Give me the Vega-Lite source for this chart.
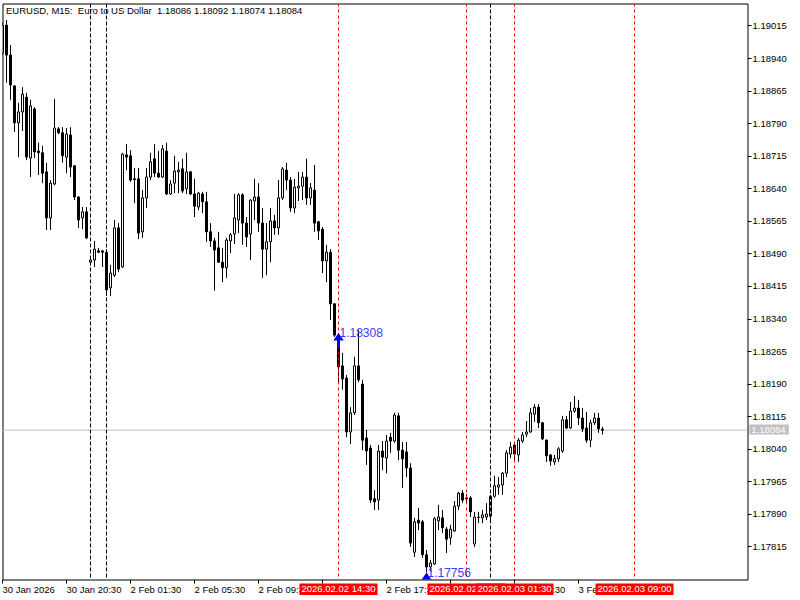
{
"$schema": "https://vega.github.io/schema/vega-lite/v6.json",
"autosize": "none",
"width": 745,
"height": 576,
"padding": {"left": 2.5, "top": 3.5, "right": 52.5, "bottom": 20.5},
"background": "white",
"title": {"text": "EURUSD, M15:\u00a0 Euro to US Dollar\u00a0 1.18086 1.18092 1.18074 1.18084", "anchor": "start", "frame": "group", "offset": -10, "dx": 3.5, "dy": 10.5, "baseline": "alphabetic", "font": "Liberation Sans", "fontSize": 9.5, "fontWeight": "normal", "color": "black"},
"datasets": {
"candles": [
{"t":0,"o":1.18953,"h":1.19024,"l":1.18948,"c":1.19017},
{"t":1,"o":1.19017,"h":1.19029,"l":1.18884,"c":1.18948},
{"t":2,"o":1.18948,"h":1.18971,"l":1.18845,"c":1.18879},
{"t":3,"o":1.18877,"h":1.18879,"l":1.18771,"c":1.18792},
{"t":4,"o":1.18792,"h":1.18838,"l":1.18713,"c":1.18817},
{"t":5,"o":1.18817,"h":1.18874,"l":1.18773,"c":1.18858},
{"t":6,"o":1.18851,"h":1.18861,"l":1.18706,"c":1.18713},
{"t":7,"o":1.18711,"h":1.18845,"l":1.18667,"c":1.18831},
{"t":8,"o":1.18824,"h":1.18828,"l":1.18711,"c":1.18725},
{"t":9,"o":1.18727,"h":1.18746,"l":1.18672,"c":1.18723},
{"t":10,"o":1.18723,"h":1.18739,"l":1.18653,"c":1.18676},
{"t":11,"o":1.18679,"h":1.18700,"l":1.18545,"c":1.18573},
{"t":12,"o":1.18573,"h":1.18660,"l":1.18545,"c":1.18653},
{"t":13,"o":1.18651,"h":1.18847,"l":1.18648,"c":1.18780},
{"t":14,"o":1.18778,"h":1.18782,"l":1.18766,"c":1.18769},
{"t":15,"o":1.18769,"h":1.18782,"l":1.18700,"c":1.18716},
{"t":16,"o":1.18713,"h":1.18780,"l":1.18676,"c":1.18766},
{"t":17,"o":1.18764,"h":1.18782,"l":1.18667,"c":1.18690},
{"t":18,"o":1.18693,"h":1.18695,"l":1.18614,"c":1.18621},
{"t":19,"o":1.18621,"h":1.18623,"l":1.18550,"c":1.18568},
{"t":20,"o":1.18573,"h":1.18598,"l":1.18547,"c":1.18587},
{"t":21,"o":1.18587,"h":1.18598,"l":1.18524,"c":1.18527},
{"t":22,"o":1.18471,"h":1.18481,"l":1.18465,"c":1.18476},
{"t":23,"o":1.18476,"h":1.18520,"l":1.18460,"c":1.18501},
{"t":24,"o":1.18497,"h":1.18504,"l":1.18492,"c":1.18494},
{"t":25,"o":1.18497,"h":1.18499,"l":1.18460,"c":1.18494},
{"t":26,"o":1.18494,"h":1.18501,"l":1.18393,"c":1.18407},
{"t":27,"o":1.18412,"h":1.18465,"l":1.18393,"c":1.18446},
{"t":28,"o":1.18441,"h":1.18568,"l":1.18437,"c":1.18550},
{"t":29,"o":1.18550,"h":1.18561,"l":1.18448,"c":1.18455},
{"t":30,"o":1.18460,"h":1.18723,"l":1.18458,"c":1.18720},
{"t":31,"o":1.18718,"h":1.18743,"l":1.18683,"c":1.18713},
{"t":32,"o":1.18716,"h":1.18729,"l":1.18656,"c":1.18660},
{"t":33,"o":1.18663,"h":1.18688,"l":1.18607,"c":1.18661},
{"t":34,"o":1.18663,"h":1.18688,"l":1.18524,"c":1.18538},
{"t":35,"o":1.18541,"h":1.18637,"l":1.18527,"c":1.18619},
{"t":36,"o":1.18619,"h":1.18688,"l":1.18596,"c":1.18667},
{"t":37,"o":1.18667,"h":1.18723,"l":1.18660,"c":1.18702},
{"t":38,"o":1.18709,"h":1.18743,"l":1.18667,"c":1.18676},
{"t":39,"o":1.18676,"h":1.18727,"l":1.18665,"c":1.18667},
{"t":40,"o":1.18667,"h":1.18741,"l":1.18665,"c":1.18732},
{"t":41,"o":1.18727,"h":1.18746,"l":1.18626,"c":1.18628},
{"t":42,"o":1.18628,"h":1.18660,"l":1.18626,"c":1.18651},
{"t":43,"o":1.18653,"h":1.18716,"l":1.18630,"c":1.18681},
{"t":44,"o":1.18679,"h":1.18702,"l":1.18630,"c":1.18683},
{"t":45,"o":1.18686,"h":1.18709,"l":1.18630,"c":1.18635},
{"t":46,"o":1.18640,"h":1.18723,"l":1.18628,"c":1.18679},
{"t":47,"o":1.18679,"h":1.18681,"l":1.18626,"c":1.18628},
{"t":48,"o":1.18628,"h":1.18663,"l":1.18575,"c":1.18600},
{"t":49,"o":1.18598,"h":1.18633,"l":1.18591,"c":1.18630},
{"t":50,"o":1.18628,"h":1.18633,"l":1.18584,"c":1.18610},
{"t":51,"o":1.18610,"h":1.18633,"l":1.18518,"c":1.18541},
{"t":52,"o":1.18541,"h":1.18561,"l":1.18506,"c":1.18520},
{"t":53,"o":1.18520,"h":1.18527,"l":1.18405,"c":1.18499},
{"t":54,"o":1.18504,"h":1.18541,"l":1.18469,"c":1.18471},
{"t":55,"o":1.18471,"h":1.18504,"l":1.18425,"c":1.18458},
{"t":56,"o":1.18458,"h":1.18527,"l":1.18435,"c":1.18522},
{"t":57,"o":1.18520,"h":1.18538,"l":1.18492,"c":1.18534},
{"t":58,"o":1.18536,"h":1.18628,"l":1.18513,"c":1.18573},
{"t":59,"o":1.18568,"h":1.18630,"l":1.18538,"c":1.18626},
{"t":60,"o":1.18626,"h":1.18630,"l":1.18511,"c":1.18561},
{"t":61,"o":1.18561,"h":1.18575,"l":1.18506,"c":1.18529},
{"t":62,"o":1.18536,"h":1.18616,"l":1.18476,"c":1.18614},
{"t":63,"o":1.18612,"h":1.18663,"l":1.18568,"c":1.18621},
{"t":64,"o":1.18621,"h":1.18653,"l":1.18541,"c":1.18561},
{"t":65,"o":1.18561,"h":1.18596,"l":1.18435,"c":1.18501},
{"t":66,"o":1.18501,"h":1.18561,"l":1.18441,"c":1.18518},
{"t":67,"o":1.18518,"h":1.18596,"l":1.18471,"c":1.18566},
{"t":68,"o":1.18566,"h":1.18580,"l":1.18534,"c":1.18550},
{"t":69,"o":1.18550,"h":1.18660,"l":1.18534,"c":1.18619},
{"t":70,"o":1.18619,"h":1.18690,"l":1.18614,"c":1.18686},
{"t":71,"o":1.18683,"h":1.18700,"l":1.18637,"c":1.18660},
{"t":72,"o":1.18660,"h":1.18667,"l":1.18587,"c":1.18596},
{"t":73,"o":1.18596,"h":1.18663,"l":1.18584,"c":1.18644},
{"t":74,"o":1.18642,"h":1.18679,"l":1.18612,"c":1.18646},
{"t":75,"o":1.18646,"h":1.18679,"l":1.18614,"c":1.18667},
{"t":76,"o":1.18667,"h":1.18709,"l":1.18603,"c":1.18619},
{"t":77,"o":1.18619,"h":1.18653,"l":1.18603,"c":1.18642},
{"t":78,"o":1.18637,"h":1.18695,"l":1.18541,"c":1.18561},
{"t":79,"o":1.18564,"h":1.18566,"l":1.18522,"c":1.18543},
{"t":80,"o":1.18547,"h":1.18552,"l":1.18446,"c":1.18474},
{"t":81,"o":1.18474,"h":1.18511,"l":1.18425,"c":1.18494},
{"t":82,"o":1.18494,"h":1.18501,"l":1.18338,"c":1.18375},
{"t":83,"o":1.18375,"h":1.18377,"l":1.18299,"c":1.18303},
{"t":84,"o":1.18303,"h":1.18308,"l":1.18195,"c":1.18230},
{"t":85,"o":1.18232,"h":1.18262,"l":1.18177,"c":1.18202},
{"t":86,"o":1.18204,"h":1.18211,"l":1.18068,"c":1.18080},
{"t":87,"o":1.18080,"h":1.18137,"l":1.18052,"c":1.18124},
{"t":88,"o":1.18124,"h":1.18253,"l":1.18119,"c":1.18232},
{"t":89,"o":1.18232,"h":1.18315,"l":1.18195,"c":1.18200},
{"t":90,"o":1.18190,"h":1.18200,"l":1.18038,"c":1.18061},
{"t":91,"o":1.18066,"h":1.18085,"l":1.18004,"c":1.18036},
{"t":92,"o":1.18043,"h":1.18050,"l":1.17916,"c":1.17923},
{"t":93,"o":1.17926,"h":1.17946,"l":1.17900,"c":1.17919},
{"t":94,"o":1.17923,"h":1.18050,"l":1.17900,"c":1.18036},
{"t":95,"o":1.18036,"h":1.18059,"l":1.17992,"c":1.18022},
{"t":96,"o":1.18020,"h":1.18073,"l":1.17985,"c":1.18059},
{"t":97,"o":1.18068,"h":1.18078,"l":1.18032,"c":1.18059},
{"t":98,"o":1.18059,"h":1.18124,"l":1.18055,"c":1.18119},
{"t":99,"o":1.18117,"h":1.18124,"l":1.18015,"c":1.18038},
{"t":100,"o":1.18038,"h":1.18057,"l":1.17951,"c":1.18018},
{"t":101,"o":1.18034,"h":1.18057,"l":1.17976,"c":1.17997},
{"t":102,"o":1.17997,"h":1.18008,"l":1.17815,"c":1.17824},
{"t":103,"o":1.17803,"h":1.17882,"l":1.17792,"c":1.17873},
{"t":104,"o":1.17877,"h":1.17905,"l":1.17854,"c":1.17870},
{"t":105,"o":1.17873,"h":1.17877,"l":1.17790,"c":1.17797},
{"t":106,"o":1.17797,"h":1.17808,"l":1.17756,"c":1.17769},
{"t":107,"o":1.17769,"h":1.17785,"l":1.17758,"c":1.17778},
{"t":108,"o":1.17776,"h":1.17884,"l":1.17774,"c":1.17880},
{"t":109,"o":1.17875,"h":1.17912,"l":1.17854,"c":1.17884},
{"t":110,"o":1.17882,"h":1.17900,"l":1.17847,"c":1.17859},
{"t":111,"o":1.17856,"h":1.17861,"l":1.17801,"c":1.17833},
{"t":112,"o":1.17836,"h":1.17866,"l":1.17820,"c":1.17856},
{"t":113,"o":1.17852,"h":1.17921,"l":1.17850,"c":1.17909},
{"t":114,"o":1.17909,"h":1.17942,"l":1.17900,"c":1.17939},
{"t":115,"o":1.17939,"h":1.17946,"l":1.17916,"c":1.17923},
{"t":116,"o":1.17928,"h":1.17937,"l":1.17919,"c":1.17926},
{"t":117,"o":1.17928,"h":1.17932,"l":1.17884,"c":1.17896},
{"t":118,"o":1.17822,"h":1.17896,"l":1.17815,"c":1.17884},
{"t":119,"o":1.17884,"h":1.17896,"l":1.17870,"c":1.17883},
{"t":120,"o":1.17882,"h":1.17900,"l":1.17870,"c":1.17889},
{"t":121,"o":1.17884,"h":1.17916,"l":1.17877,"c":1.17891},
{"t":122,"o":1.17886,"h":1.17935,"l":1.17877,"c":1.17932},
{"t":123,"o":1.17932,"h":1.17979,"l":1.17928,"c":1.17956},
{"t":124,"o":1.17953,"h":1.17976,"l":1.17935,"c":1.17958},
{"t":125,"o":1.17958,"h":1.17988,"l":1.17935,"c":1.17985},
{"t":126,"o":1.17985,"h":1.18038,"l":1.17976,"c":1.18032},
{"t":127,"o":1.18029,"h":1.18057,"l":1.18020,"c":1.18045},
{"t":128,"o":1.18050,"h":1.18055,"l":1.18015,"c":1.18029},
{"t":129,"o":1.18027,"h":1.18066,"l":1.18011,"c":1.18061},
{"t":130,"o":1.18059,"h":1.18080,"l":1.18055,"c":1.18073},
{"t":131,"o":1.18075,"h":1.18105,"l":1.18068,"c":1.18080},
{"t":132,"o":1.18080,"h":1.18135,"l":1.18078,"c":1.18124},
{"t":133,"o":1.18121,"h":1.18144,"l":1.18103,"c":1.18137},
{"t":134,"o":1.18137,"h":1.18144,"l":1.18089,"c":1.18101},
{"t":135,"o":1.18101,"h":1.18103,"l":1.18061,"c":1.18064},
{"t":136,"o":1.18061,"h":1.18063,"l":1.18011,"c":1.18025},
{"t":137,"o":1.18027,"h":1.18029,"l":1.18002,"c":1.18013},
{"t":138,"o":1.18011,"h":1.18027,"l":1.18004,"c":1.18018},
{"t":139,"o":1.18018,"h":1.18045,"l":1.18011,"c":1.18041},
{"t":140,"o":1.18036,"h":1.18117,"l":1.18032,"c":1.18108},
{"t":141,"o":1.18108,"h":1.18117,"l":1.18087,"c":1.18089},
{"t":142,"o":1.18089,"h":1.18149,"l":1.18087,"c":1.18128},
{"t":143,"o":1.18128,"h":1.18163,"l":1.18124,"c":1.18135},
{"t":144,"o":1.18135,"h":1.18154,"l":1.18096,"c":1.18112},
{"t":145,"o":1.18112,"h":1.18135,"l":1.18080,"c":1.18087},
{"t":146,"o":1.18089,"h":1.18126,"l":1.18055,"c":1.18061},
{"t":147,"o":1.18061,"h":1.18108,"l":1.18045,"c":1.18101},
{"t":148,"o":1.18101,"h":1.18124,"l":1.18096,"c":1.18112},
{"t":149,"o":1.18112,"h":1.18124,"l":1.18078,"c":1.18087},
{"t":150,"o":1.18086,"h":1.18092,"l":1.18074,"c":1.18084}
],
"separators": [{"t":22},{"t":26},{"t":122}],
"vlines": [
{"t":84,"label":"2026.02.02 14:30"},
{"t":116,"label":"2026.02.02 22:30"},
{"t":128,"label":"2026.02.03 01:30"},
{"t":158,"label":"2026.02.03 09:00"}
],
"signals": [
{"t":84,"p":1.18308,"label":"1.18308"},
{"t":106,"p":1.17756,"label":"1.17756"}
],
"bid": [{"price":1.18084}]
},
"layer": [
{"data": {"name": "bid"}, "mark": {"type": "rule", "color": "#c0c0c0", "strokeWidth": 1},
 "encoding": {"y": {"field": "price", "type": "quantitative", "title": null}}},
{"data": {"name": "candles"}, "mark": {"type": "rule", "color": "black", "strokeWidth": 1, "clip": true},
 "encoding": {
  "x": {"field": "t", "type": "quantitative", "title": null,
        "scale": {"domain": [0, 186.25], "nice": false, "zero": false, "padding": 0},
        "axis": {"values": [0,16,32,48,64,80,96,112,128,144], "tickCount": 30,
                 "labelExpr": "['30 Jan 2026','30 Jan 20:30','2 Feb 01:30','2 Feb 05:30','2 Feb 09:30','2 Feb 13:30','2 Feb 17:30','2 Feb 21:30','3 Feb 01:30','3 Feb 05:30'][round(datum.value/16)]",
                 "tickSize": 4, "labelAlign": "left", "labelBaseline": "top", "labelPadding": 1,
                 "labelFlush": false, "labelOverlap": false, "labelBound": false}},
  "y": {"field": "l", "type": "quantitative", "title": null,
        "scale": {"domain": [1.177401, 1.190668], "nice": false, "zero": false, "padding": 0},
        "axis": {"orient": "right", "tickCount": 40, "values": [1.17815,1.1789,1.17965,1.1804,1.18115,1.1819,1.18265,1.1834,1.18415,1.1849,1.18565,1.1864,1.18715,1.1879,1.18865,1.1894,1.19015],
                 "format": ".5f", "tickSize": 4, "labelPadding": 1, "labelFlush": false, "labelOverlap": false}},
  "y2": {"field": "h"}
 }},
{"data": {"name": "candles"}, "mark": {"type": "bar", "size": 2, "stroke": "black", "strokeWidth": 1, "clip": true},
 "encoding": {
  "x": {"field": "t", "type": "quantitative", "title": null},
  "y": {"field": "o", "type": "quantitative", "title": null},
  "y2": {"field": "c"},
  "fill": {"condition": {"test": "datum.c >= datum.o", "value": "white"}, "value": "black"}
 }},
{"data": {"name": "separators"}, "mark": {"type": "rule", "color": "black", "strokeWidth": 1, "strokeDash": [4, 2]},
 "encoding": {"x": {"field": "t", "type": "quantitative", "title": null}}},
{"data": {"name": "vlines"}, "mark": {"type": "rule", "color": "#ff0000", "strokeWidth": 1, "strokeDash": [3, 3]},
 "encoding": {"x": {"field": "t", "type": "quantitative", "title": null}}},
{"data": {"name": "signals"}, "mark": {"type": "point", "shape": "M0,0L0.7,1L0.2,1L0.2,2L-0.2,2L-0.2,1L-0.7,1Z", "filled": true, "size": 225, "color": "#0000ff", "opacity": 1, "clip": true},
 "encoding": {"x": {"field": "t", "type": "quantitative", "title": null}, "y": {"field": "p", "type": "quantitative", "title": null}}},
{"data": {"name": "signals"}, "mark": {"type": "text", "align": "left", "baseline": "middle", "dx": 1, "font": "Liberation Sans", "fontSize": 12, "color": "#3a3aff"},
 "encoding": {"x": {"field": "t", "type": "quantitative", "title": null}, "y": {"field": "p", "type": "quantitative", "title": null}, "text": {"field": "label"}}},
{"data": {"name": "bid"}, "mark": {"type": "bar", "color": "#c0c0c0"},
 "encoding": {"x": {"datum": 186.7, "type": "quantitative"}, "x2": {"datum": 196.6}, "y": {"datum": 1.18097, "type": "quantitative"}, "y2": {"datum": 1.18074}}},
{"data": {"name": "bid"}, "mark": {"type": "text", "align": "left", "baseline": "middle", "font": "Liberation Sans", "fontSize": 9.5, "color": "white"},
 "encoding": {"x": {"datum": 187.2, "type": "quantitative"}, "y": {"field": "price", "type": "quantitative", "title": null}, "text": {"field": "price", "format": ".5f"}}},
{"data": {"name": "vlines"}, "transform": [{"filter": "datum.t < 120"}],
 "layer": [
  {"mark": {"type": "bar", "size": 78, "color": "#ff0000"},
   "encoding": {"x": {"field": "t", "type": "quantitative", "title": null}, "y": {"datum": 1.177309, "type": "quantitative"}, "y2": {"datum": 1.177045}}},
  {"mark": {"type": "text", "align": "center", "baseline": "middle", "font": "Liberation Sans", "fontSize": 9.5, "color": "white"},
   "encoding": {"x": {"field": "t", "type": "quantitative", "title": null}, "y": {"datum": 1.177177, "type": "quantitative"}, "text": {"field": "label"}}}
 ]},
{"data": {"name": "vlines"}, "transform": [{"filter": "datum.t > 120"}],
 "layer": [
  {"mark": {"type": "bar", "size": 78, "color": "#ff0000"},
   "encoding": {"x": {"field": "t", "type": "quantitative", "title": null}, "y": {"datum": 1.177309, "type": "quantitative"}, "y2": {"datum": 1.177045}}},
  {"mark": {"type": "text", "align": "center", "baseline": "middle", "font": "Liberation Sans", "fontSize": 9.5, "color": "white"},
   "encoding": {"x": {"field": "t", "type": "quantitative", "title": null}, "y": {"datum": 1.177177, "type": "quantitative"}, "text": {"field": "label"}}}
 ]}
],
"config": {
 "view": {"stroke": "#000000", "strokeWidth": 1, "fill": "white"},
 "axis": {"grid": false, "domain": false, "labelFont": "Liberation Sans", "labelFontSize": 9.5, "labelColor": "#000000", "tickColor": "#000000", "tickWidth": 1, "translate": 0}
}
}
